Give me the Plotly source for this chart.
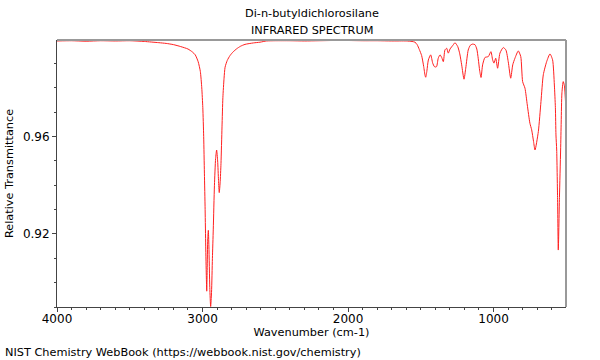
import plotly.graph_objects as go

title_line1 = "Di-n-butyldichlorosilane"
title_line2 = "INFRARED SPECTRUM"
x_label = "Wavenumber (cm-1)"
y_label = "Relative Transmittance"
footer = "NIST Chemistry WebBook (https://webbook.nist.gov/chemistry)"

x_tick_vals = [4000, 3000, 2000, 1000]
y_tick_vals = [0.92, 0.96]

wavenumber = [
    4000, 3900, 3800, 3700, 3600, 3500, 3400, 3300, 3250, 3200, 3150, 3100,
    3070, 3050, 3030, 3015, 3005, 2998, 2992, 2987, 2982, 2978, 2974, 2971,
    2968, 2964, 2960, 2956, 2950, 2944, 2938, 2932, 2926, 2918, 2910, 2903,
    2896, 2890, 2885, 2879, 2873, 2866, 2860, 2852, 2845, 2830, 2811, 2790,
    2765, 2740, 2708, 2650, 2605, 2560, 2500, 2400, 2300, 2200, 2100, 2000,
    1900, 1800, 1700, 1600, 1560, 1540, 1525, 1510, 1494, 1480, 1470, 1466,
    1458, 1448, 1432, 1418, 1407, 1398, 1391, 1380, 1368, 1356, 1345, 1334,
    1322, 1311, 1299, 1277, 1265, 1246, 1232, 1219, 1203, 1191, 1174, 1160,
    1146, 1128, 1115, 1105, 1095, 1086, 1075, 1059, 1036, 1018, 1006, 997,
    985, 972, 956, 933, 915, 899, 882, 868, 853, 830, 813, 800, 784, 768,
    750, 738, 725, 715, 692, 674, 658, 635, 612, 594, 582, 575, 571, 566,
    560, 555, 547, 539, 535, 530, 521, 513, 509, 502,
]
transmittance = [
    0.9993, 0.9994, 0.9992, 0.9994, 0.9993, 0.9994, 0.9991, 0.9986, 0.9983, 0.9978, 0.9970, 0.9960,
    0.9948, 0.9936, 0.9908, 0.9868, 0.9800, 0.9720, 0.9600, 0.9450, 0.9300, 0.9150, 0.9030, 0.8965,
    0.9050, 0.9180, 0.9215, 0.9150, 0.8980, 0.8902, 0.8960, 0.9100, 0.9220, 0.9400, 0.9510, 0.9545,
    0.9500, 0.9420, 0.9370, 0.9410, 0.9490, 0.9640, 0.9760, 0.9840, 0.9885, 0.9913, 0.9933, 0.9948,
    0.9961, 0.9971, 0.9979, 0.9985, 0.9988, 0.9993, 0.9994, 0.9994, 0.9993, 0.9994, 0.9995, 0.9995,
    0.9994, 0.9994, 0.9993, 0.9993, 0.9991, 0.9988, 0.9978, 0.9958, 0.9933, 0.9888, 0.9850, 0.9844,
    0.9870, 0.9915, 0.9936, 0.9902, 0.9888, 0.9886, 0.9888, 0.9922, 0.9936, 0.9925, 0.9908, 0.9956,
    0.9963, 0.9943, 0.9960, 0.9977, 0.9986, 0.9970, 0.9940, 0.9895, 0.9836, 0.9881, 0.9956, 0.9975,
    0.9980, 0.9978, 0.9960, 0.9920, 0.9870, 0.9843, 0.9895, 0.9925, 0.9929, 0.9949, 0.9915, 0.9902,
    0.9922, 0.9881, 0.9943, 0.9966, 0.9956, 0.9908, 0.9840, 0.9895, 0.9922, 0.9952, 0.9929, 0.9826, 0.9799, 0.9730,
    0.9655, 0.9628, 0.9580, 0.9545, 0.9621, 0.9744, 0.9854, 0.9908, 0.9940, 0.9915, 0.9812, 0.9720, 0.9607, 0.9545,
    0.9350, 0.9134, 0.9350, 0.9545, 0.9660, 0.9780, 0.9826, 0.9810, 0.9780, 0.9710,
]

FONT = "DejaVu Sans"
TXT = 11.3

fig = go.Figure()
fig.add_trace(go.Scatter(
    x=wavenumber, y=transmittance, mode="lines",
    line=dict(color="#ff2020", width=1, shape="spline", smoothing=0.6),
    showlegend=False, hoverinfo="skip",
))

fig.update_layout(
    width=600, height=360,
    margin=dict(l=57, r=34, t=40, b=53),
    paper_bgcolor="white", plot_bgcolor="white",
    font=dict(family=FONT, size=12, color="black"),
    xaxis=dict(
        range=[4000, 502], showgrid=False, zeroline=False, automargin=False,
        showline=True, linecolor="#444444", linewidth=1,
        ticks="outside", ticklen=4, tickcolor="#444444",
        tickvals=x_tick_vals, ticktext=[str(v) for v in x_tick_vals],
        minor=dict(dtick=100, tick0=0, ticks="outside", ticklen=2, tickcolor="#444444"),
        title=dict(text=x_label, standoff=0, font=dict(size=TXT)),
        tickfont=dict(size=12),
        ticklabelstandoff=-3,
    ),
    yaxis=dict(
        range=[0.8900, 0.9997], showgrid=False, zeroline=False, automargin=False,
        showline=True, linecolor="#444444", linewidth=1,
        ticks="outside", ticklen=4, tickcolor="#444444",
        tickvals=y_tick_vals, ticktext=["0.92", "0.96"],
        minor=dict(dtick=0.01, tick0=0.0, ticks="outside", ticklen=2, tickcolor="#444444"),
        title=dict(text=y_label, standoff=6, font=dict(size=TXT)),
        tickfont=dict(size=12),
    ),
    shapes=[
        dict(type="line", xref="paper", yref="paper", x0=0, x1=1, y0=1, y1=1,
             line=dict(color="#999999", width=2)),
        dict(type="line", xref="paper", yref="paper", x0=1, x1=1, y0=0, y1=1,
             line=dict(color="#999999", width=2)),
    ],
    annotations=[
        dict(text=title_line1, xref="paper", yref="paper", x=0.5, y=1.101,
             xanchor="center", yanchor="middle", showarrow=False, font=dict(size=TXT)),
        dict(text=title_line2, xref="paper", yref="paper", x=0.5, y=1.037,
             xanchor="center", yanchor="middle", showarrow=False, font=dict(size=TXT)),
        dict(text=footer, xref="paper", yref="paper", x=-0.106, y=-0.172,
             xanchor="left", yanchor="middle", showarrow=False, font=dict(size=TXT)),
    ],
)

fig.write_html("out.html", config={"displayModeBar": False},
               post_script="document.body.style.margin='0';")
